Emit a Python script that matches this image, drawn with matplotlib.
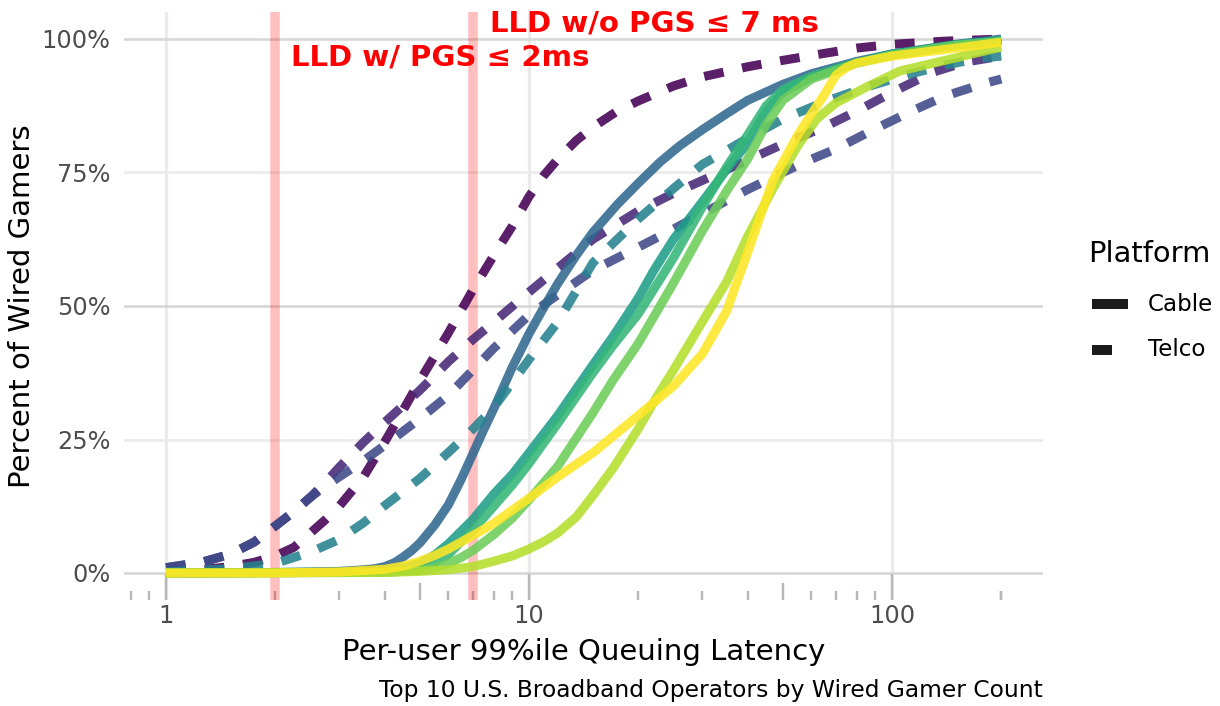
import math
import matplotlib
matplotlib.use("Agg")
import matplotlib.pyplot as plt
from matplotlib.lines import Line2D
import matplotlib.transforms as mtransforms

# ---------------- data ----------------
operators = ["Op1", "Op2", "Op3", "Op4", "Op5", "Op6", "Op7", "Op8", "Op9", "Op10"]
platforms = ["Telco", "Telco", "Telco", "Cable", "Telco", "Cable", "Cable", "Cable", "Cable", "Cable"]
colors = ["#440154", "#482878", "#3E4A89", "#31688E", "#26828E",
          "#1F9E89", "#35B779", "#6DCD59", "#B4DE2C", "#FDE725"]

op1_x = [1, 1.25, 1.5, 1.75, 2, 2.25, 2.5, 2.75, 3, 3.5, 4, 4.5, 5, 5.5, 6, 7, 8, 9, 10, 11, 12, 13.5, 15, 17.5, 20, 25, 30, 40, 50, 65, 80, 100, 140, 200]
op1_y = [0.3, 0.6, 1.2, 2.0, 3.2, 4.8, 7.5, 10.0, 12.5, 18, 24.5, 30.5, 36, 40.7, 45, 53, 59.5, 65, 70.5, 74.5, 77.5, 81, 83.5, 86.5, 88.4, 91.2, 92.9, 94.8, 96, 97.3, 98.3, 99, 99.6, 100]

op2_x = [1, 1.25, 1.5, 1.75, 2, 2.25, 2.5, 2.75, 3, 3.5, 4, 5, 6, 7, 8, 10, 12, 15, 20, 25, 30, 40, 50, 65, 80, 100, 130, 160, 200]
op2_y = [1.0, 2.0, 3.5, 5.8, 8.8, 11.5, 14.2, 17.0, 19.8, 24.5, 28.2, 34.2, 39.6, 43.7, 47.0, 52.6, 57.1, 62.5, 67.8, 71.1, 73.5, 77.3, 80.3, 83.5, 86.5, 90.0, 93.8, 95.7, 96.8]

op3_x = [1, 1.25, 1.5, 1.75, 2, 2.25, 2.5, 2.75, 3, 3.5, 4, 5, 6, 7, 8, 10, 12, 15, 20, 25, 30, 40, 50, 60, 70, 90, 115, 140, 180, 200]
op3_y = [1.0, 2.0, 3.5, 5.8, 8.8, 11.5, 14.2, 16.3, 18.0, 21.0, 23.9, 28.9, 33.3, 38.0, 42.1, 48.3, 52.1, 56.7, 61.0, 64.4, 67.3, 71.8, 75.0, 77.5, 79.4, 83.2, 86.7, 89.3, 91.7, 92.5]

op4_x = [1, 2, 3, 3.5, 3.75, 4, 4.25, 4.5, 4.75, 5, 5.5, 6, 6.5, 7, 7.5, 8, 9, 10, 11, 12, 13.5, 15, 17.5, 20, 23, 26, 30, 35, 40, 50, 60, 80, 100, 150, 200]
op4_y = [0, 0.1, 0.3, 0.6, 0.8, 1.2, 1.9, 3.0, 4.2, 5.6, 9.0, 12.8, 17.5, 22.3, 26.8, 30.8, 38.6, 44.8, 49.8, 54.2, 59.5, 63.8, 69.0, 73.0, 77.0, 80.0, 83.0, 86.0, 88.5, 91.5, 93.5, 95.8, 97.2, 99.0, 100]

op5_x = [1, 1.5, 2, 2.5, 3, 3.5, 4, 5, 6, 7, 8, 10, 12, 15, 20, 25, 30, 40, 50, 65, 85, 110, 140, 175, 200]
op5_y = [0.2, 0.8, 1.8, 3.9, 6.3, 9.4, 12.6, 17.7, 22.6, 26.9, 31.0, 40.0, 47.0, 58.1, 66.3, 72.0, 76.5, 81.4, 85.0, 88.2, 91.0, 93.3, 95.1, 96.4, 96.8]

op6_x = [1, 3, 4, 4.5, 5, 5.5, 6, 7, 8, 9, 10, 12, 15, 17, 20, 22, 25, 30, 35, 40, 45, 50, 60, 75, 100, 150, 200]
op6_y = [0, 0.1, 0.4, 0.9, 1.8, 3.4, 5.5, 10.0, 14.8, 18.5, 22.5, 29.5, 39, 44.2, 51.5, 56.5, 62.5, 69.5, 75.5, 80.5, 86.5, 90, 92.9, 95.1, 97.2, 98.9, 99.7]

op7_x = [1, 4, 4.5, 5, 5.5, 6, 7, 8, 9, 10, 12, 15, 17, 20, 25, 30, 35, 40, 45, 50, 60, 80, 100, 150, 200]
op7_y = [0, 0.2, 0.5, 1.0, 2.0, 3.5, 8.0, 12.5, 16.5, 20.5, 28, 37.5, 42.5, 48.5, 59, 68.5, 76, 82, 87.5, 90.5, 93, 95.5, 97, 98.9, 99.7]

op8_x = [1, 4, 5, 5.5, 6, 6.5, 7, 8, 9, 10, 12, 15, 17, 20, 25, 30, 35, 40, 45, 50, 60, 80, 100, 150, 200]
op8_y = [0, 0.1, 0.5, 1.0, 1.8, 2.9, 4.2, 7.2, 10.3, 13.7, 20, 30, 36, 43, 54.3, 64, 71.5, 77.5, 84, 88.5, 92.5, 95.5, 97, 98.8, 99.5]

op9_x = [1, 4, 5, 6, 7, 8, 9, 10, 11, 12, 13.5, 15, 17, 20, 22.5, 25, 30, 35, 40, 47, 55, 62, 70, 85, 105, 140, 200]
op9_y = [0, 0.1, 0.3, 0.6, 1.2, 2.2, 3.2, 4.5, 5.9, 7.5, 10.5, 14.5, 19.5, 27, 33, 38, 47, 54.5, 63, 72, 80, 85, 88, 91, 94, 96, 98.5]

op10_x = [1, 2, 3, 4, 4.5, 5, 5.5, 6, 7, 8, 10, 12, 15, 20, 25, 30, 35, 40, 47, 55, 60, 65, 70, 75, 80, 100, 150, 200]
op10_y = [0, 0, 0.2, 0.7, 1.3, 2.2, 3.3, 4.5, 7.0, 9.3, 14, 18, 22.5, 29.5, 35, 41, 49, 60, 73.6, 82, 86, 89.5, 93.2, 94.7, 95.5, 96.8, 98.3, 99.4]

series_x = [op1_x, op2_x, op3_x, op4_x, op5_x, op6_x, op7_x, op8_x, op9_x, op10_x]
series_y = [op1_y, op2_y, op3_y, op4_y, op5_y, op6_y, op7_y, op8_y, op9_y, op10_y]

x_ticks = [1, 10, 100]
x_tick_labels = ["1", "10", "100"]
y_ticks = [0, 0.25, 0.5, 0.75, 1.0]
y_tick_labels = ["0%", "25%", "50%", "75%", "100%"]
threshold_x = [2, 7]
threshold_labels = ["LLD w/ PGS \u2264 2ms", "LLD w/o PGS \u2264 7 ms"]

# ---------------- layout ----------------
W, H = 1220, 706
fig = plt.figure(figsize=(W / 100, H / 100), dpi=100)
plt.rcParams['font.family'] = ['DejaVu Sans']

def fx(px):
    return px / W

def fy(py):
    return 1 - py / H

L, R, T, B = 124.3, 1043.0, 12.3, 599.7
ax = fig.add_axes([fx(L), fy(B), (R - L) / W, (B - T) / H])
ax.set_xscale('log')
ax.set_xlim(10 ** -0.115, 10 ** 2.416)
ax.set_ylim(-0.05, 1.05)
for s in ax.spines.values():
    s.set_visible(False)
ax.set_facecolor('white')

PX = 72 / 100  # points per pixel

# grid
for v in x_ticks:
    ax.axvline(v, color='#ebebeb', lw=3.2 * PX, zorder=0.5)
for v in y_ticks:
    c = '#d6d6d6' if v in (0, 0.5, 1.0) else '#ebebeb'
    ax.axhline(v, color=c, lw=2.6 * PX, zorder=0.6)

# threshold bands
for v in threshold_x:
    ax.axvline(v, color='red', alpha=0.25, lw=9.5 * PX, zorder=1)

# log ticks along the bottom
blend = mtransforms.blended_transform_factory(ax.transData, ax.transAxes)
ph = B - T
tick_vals = [0.8, 0.9] + [m * d for d in (1, 10, 100) for m in range(1, 10)] + [200]
for v in tick_vals:
    if v > 200.5:
        continue
    lead = round(v / 10 ** math.floor(math.log10(v) + 1e-9), 3)
    if lead == 1:
        ln = 26
    elif lead == 5:
        ln = 17
    else:
        ln = 9
    ax.plot([v, v], [0, ln / ph], transform=blend, color='#b8b8b8', lw=2.4 * PX,
            solid_capstyle='butt', zorder=0.8, clip_on=False)

# data lines
LW = 9.0 * PX
for xs, ys, col, plat in zip(series_x, series_y, colors, platforms):
    yy = [v / 100 for v in ys]
    if plat == "Telco":
        ax.plot(xs, yy, color=col, lw=LW, alpha=0.88, dashes=(2.2, 2.1),
                dash_capstyle='butt', dash_joinstyle='round', zorder=3)
    else:
        ax.plot(xs, yy, color=col, lw=LW, alpha=0.88, solid_capstyle='butt',
                solid_joinstyle='round', zorder=3)

# threshold annotations
ax.text(2.21, 0.951, threshold_labels[0], color='red', fontsize=21.1,
        fontweight='bold', ha='left', va='baseline', zorder=5)
ax.text(7.8, 1.014, threshold_labels[1], color='red', fontsize=21.1,
        fontweight='bold', ha='left', va='baseline', zorder=5, clip_on=False)

# ticks
ax.set_xticks(x_ticks)
ax.set_xticklabels(x_tick_labels)
ax.set_yticks(y_ticks)
ax.set_yticklabels(y_tick_labels)
ax.xaxis.set_minor_locator(matplotlib.ticker.NullLocator())
ax.tick_params(axis='both', length=0, labelsize=17.3, labelcolor='#4d4d4d')
ax.tick_params(axis='x', pad=3)
ax.tick_params(axis='y', pad=10)

# axis titles and caption
fig.text(fx((L + R) / 2), fy(652), "Per-user 99%ile Queuing Latency", fontsize=21,
         ha='center', va='center', color='black')
fig.text(fx(22), fy((T + B) / 2), "Percent of Wired Gamers", fontsize=21, rotation=90,
         ha='center', va='center', color='black')
fig.text(fx(1043), fy(691), "Top 10 U.S. Broadband Operators by Wired Gamer Count",
         fontsize=16.85, ha='right', va='center', color='black')

# legend (manual, ggplot-like)
fig.text(fx(1088), fy(254), "Platform", fontsize=20.8, ha='left', va='center', color='black')
fig.add_artist(Line2D([fx(1092), fx(1128)], [fy(304), fy(304)], color='#1a1a1a',
                      lw=10 * PX, solid_capstyle='butt'))
fig.add_artist(Line2D([fx(1092), fx(1112)], [fy(350), fy(350)], color='#1a1a1a',
                      lw=10 * PX, solid_capstyle='butt'))
fig.text(fx(1148), fy(304), "Cable", fontsize=16.6, ha='left', va='center', color='black')
fig.text(fx(1148), fy(350), "Telco", fontsize=16.6, ha='left', va='center', color='black')

fig.savefig("out.png", dpi=100, facecolor='white')
